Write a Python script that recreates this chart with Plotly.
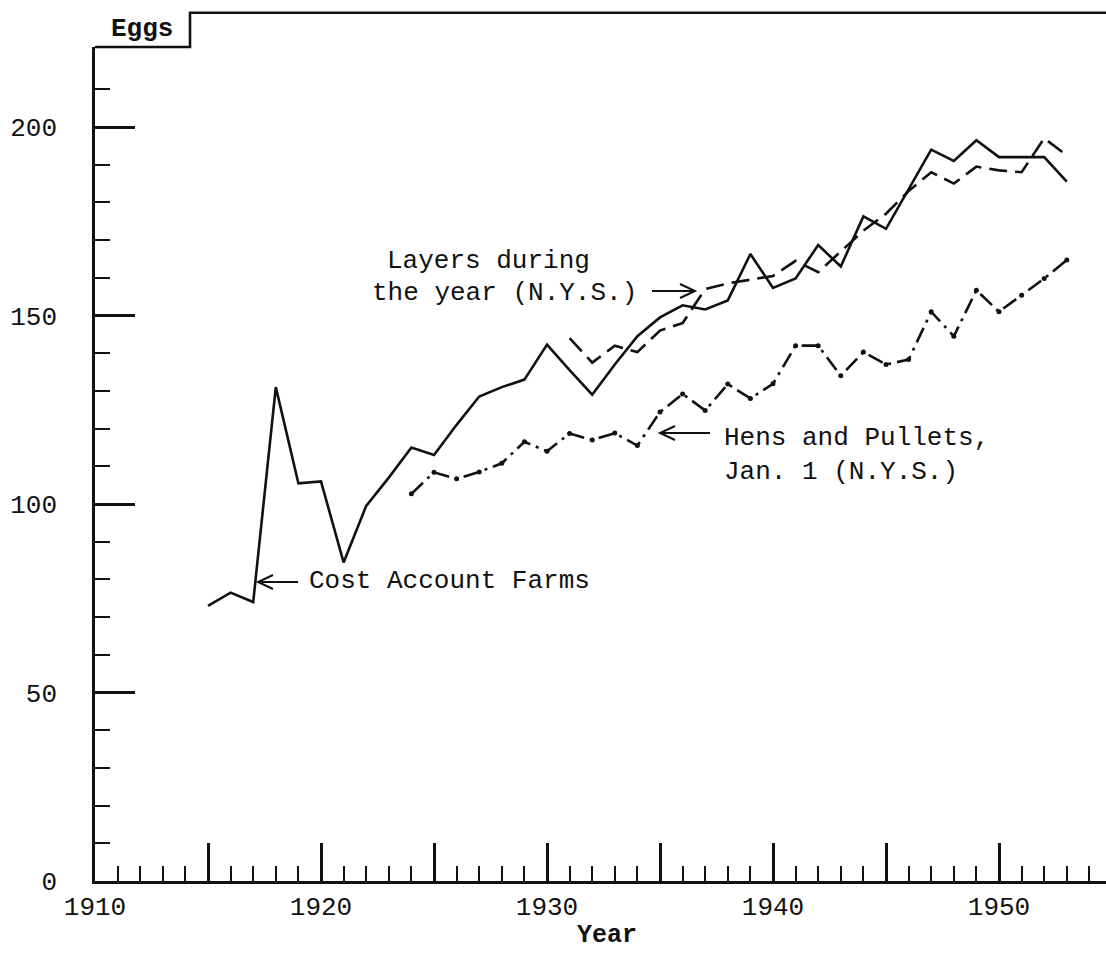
import plotly.graph_objects as go

# ---------------- data ----------------
years_cost = list(range(1915, 1954))
cost_account = [73, 76.5, 74, 131, 105.5, 106, 84.5, 99.5, 107, 115,
                113, 121, 128.5, 131, 133, 142.3, 135.5, 129, 137, 144.5,
                149.5, 152.7, 151.6, 154, 166.3, 157.3, 159.8, 168.7, 163, 176.3,
                173, 183.5, 194, 191, 196.5, 192, 192, 192, 185.5]

years_layers = list(range(1931, 1954))
layers = [144, 137.5, 142, 140.3, 146, 148, 157, 158.5, 159.5, 160.5,
          164.5, 161.5, 167, 172.5, 177, 183, 188, 185, 189.5, 188.5,
          188, 197, 192.5]

years_hens = list(range(1924, 1954))
hens = [102.7, 108.4, 106.7, 108.5, 110.8, 116.5, 114, 118.7, 117, 118.8,
        115.5, 124.4, 129.2, 124.8, 131.8, 128, 131.9, 142, 142, 134,
        140.3, 137, 138.3, 151, 144.5, 156.7, 151, 155.4, 159.8, 164.7]

x_major = list(range(1910, 1955, 5))
x_labels = [str(v) if v % 10 == 0 else "" for v in x_major]
y_major = [0, 50, 100, 150, 200]
y_labels = ["0", "50", "100", "150", "200"]
y_minor = [v for v in range(10, 220, 10) if v % 50]

# ---------------- geometry ----------------
W, H = 1106, 953
L, R, T, B = 95, 0, 47, 72
PXX = 22.6     # px per year
PXY = 3.77     # px per egg
X0 = 1910
X1 = X0 + (W - L - R) / PXX
Y1 = (H - T - B) / PXY
BASE = H - B   # pixel row of value 0


def dx(px):
    return X0 + (px - L) / PXX


def dy(py):
    return (BASE - py) / PXY


def px_paper(px):
    return (px - L) / (W - L - R)


def py_paper(py):
    return (BASE - py) / (H - T - B)


FONT = "Liberation Mono"
INK = "#111111"

fig = go.Figure()
fig.add_trace(go.Scatter(x=years_cost, y=cost_account, mode="lines",
                         line=dict(color=INK, width=2.6),
                         name="Cost Account Farms", showlegend=False))
fig.add_trace(go.Scatter(x=years_layers, y=layers, mode="lines",
                         line=dict(color=INK, width=2.6, dash="18px,8px"),
                         name="Layers during the year (N.Y.S.)", showlegend=False))
fig.add_trace(go.Scatter(x=years_hens, y=hens, mode="lines+markers",
                         line=dict(color=INK, width=2.6, dash="16px,6px,3px,6px"),
                         marker=dict(color=INK, size=5),
                         name="Hens and Pullets, Jan. 1 (N.Y.S.)", showlegend=False))

# ---------------- frame: Eggs box + top line ----------------
fig.add_shape(type="path", xref="paper", yref="paper",
              path=(f"M 0,1 L {px_paper(190)},1 L {px_paper(190)},{py_paper(12.7)} "
                    f"L {px_paper(W)},{py_paper(12.7)}"),
              line=dict(color=INK, width=2.6))


def arrow(tail_px, tip_px, y_px):
    d = 1 if tail_px < tip_px else -1
    hx = tip_px - d * 15
    return (f"M {dx(tail_px)},{dy(y_px)} L {dx(tip_px)},{dy(y_px)} "
            f"M {dx(hx)},{dy(y_px - 7)} L {dx(tip_px)},{dy(y_px)} L {dx(hx)},{dy(y_px + 7)}")


for tail, tip, yy in [(652, 695, 291), (298, 258, 582), (710, 660, 433)]:
    fig.add_shape(type="path", xref="x", yref="y", path=arrow(tail, tip, yy),
                  line=dict(color=INK, width=2))

ann_font = dict(family=FONT, size=26, color=INK)
texts = [
    ("Layers during", 385, 261),
    ("the year (N.Y.S.)", 370, 293),
    ("Cost Account Farms", 307, 581),
    ("Hens and Pullets,", 722, 438),
    ("Jan. 1 (N.Y.S.)", 722, 472),
]
for t, x, y in texts:
    fig.add_annotation(text=t, x=dx(x), y=dy(y), xref="x", yref="y",
                       xanchor="left", yanchor="middle", showarrow=False,
                       font=ann_font)

fig.add_annotation(text="<b>Eggs</b>", x=px_paper(142), y=py_paper(29),
                   xref="paper", yref="paper",
                   xanchor="center", yanchor="middle", showarrow=False,
                   font=ann_font)
fig.add_annotation(text="<b>Year</b>", x=px_paper(607), y=py_paper(935),
                   xref="paper", yref="paper",
                   xanchor="center", yanchor="middle", showarrow=False,
                   font=dict(family=FONT, size=25, color=INK))

fig.update_layout(
    width=W, height=H,
    margin=dict(l=L, r=R, t=T, b=B),
    paper_bgcolor="white", plot_bgcolor="white",
    showlegend=False,
    xaxis=dict(range=[X0, X1], showgrid=False, zeroline=False,
               showline=True, linecolor=INK, linewidth=2.6,
               tickmode="array", tickvals=x_major, ticktext=x_labels,
               ticks="inside", ticklen=38, tickwidth=2.6, tickcolor=INK,
               ticklabelstandoff=0,
               tickfont=dict(family=FONT, size=26, color=INK),
               minor=dict(dtick=1, tick0=1910, ticks="inside", ticklen=15,
                          tickwidth=2.2, tickcolor=INK, showgrid=False)),
    yaxis=dict(range=[0, Y1], showgrid=False, zeroline=False,
               showline=True, linecolor=INK, linewidth=2.6,
               tickmode="array", tickvals=y_major, ticktext=y_labels,
               ticks="inside", ticklen=40, tickwidth=2.6, tickcolor=INK,
               ticklabelstandoff=30,
               tickfont=dict(family=FONT, size=26, color=INK),
               minor=dict(tickmode="array", tickvals=y_minor, ticks="inside",
                          ticklen=15, tickwidth=2.2, tickcolor=INK,
                          showgrid=False)),
)

fig.write_html("out.html", config={"displayModeBar": False},
               post_script="document.body.style.margin='0px';")
